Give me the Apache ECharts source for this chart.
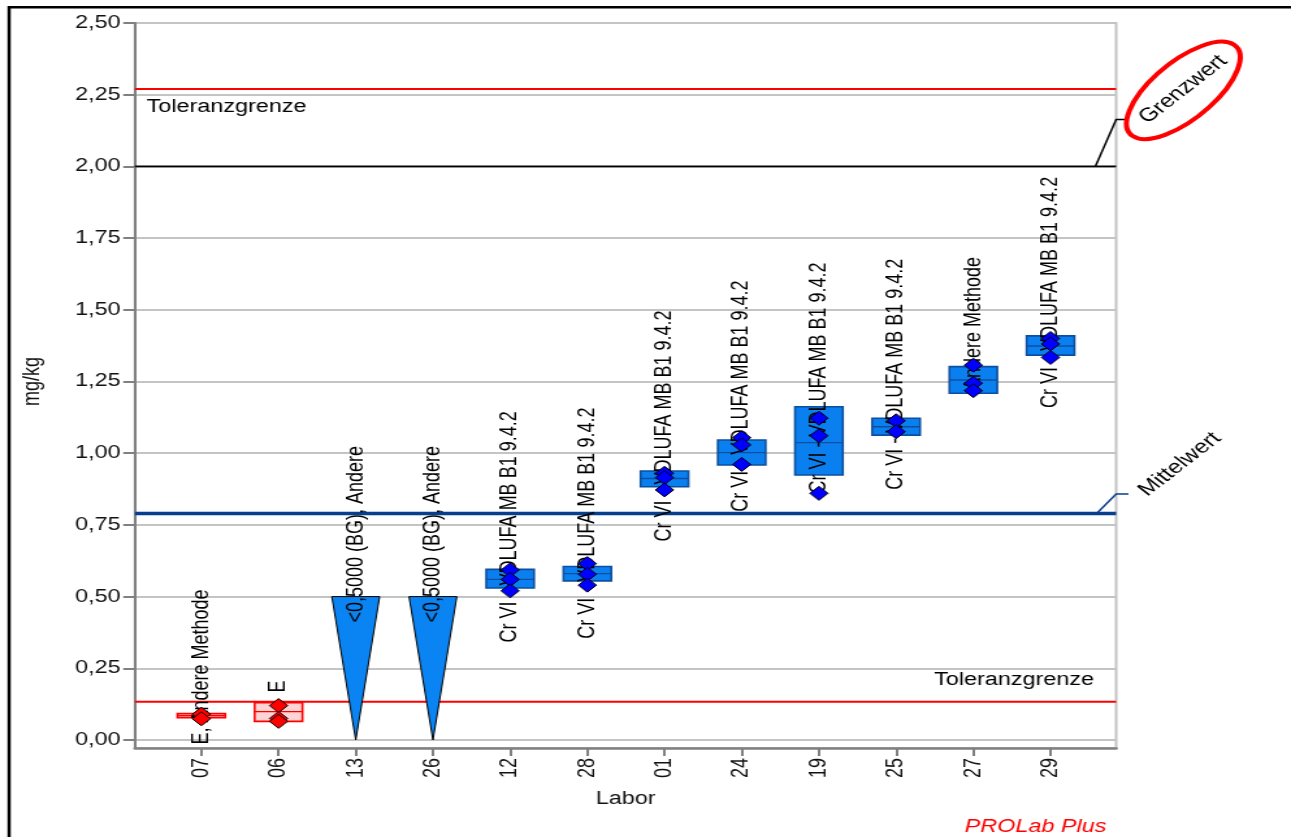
<!DOCTYPE html>
<html>
<head>
<meta charset="utf-8">
<title>Labor-Ergebnisse Cr VI</title>
<script src="https://cdn.jsdelivr.net/npm/echarts@6/dist/echarts.min.js"></script>
<style>
  html, body { margin: 0; padding: 0; background: #ffffff; overflow: hidden; }
  /* the chart is laid out on a narrower canvas and widened horizontally */
  #chart { width: 993px; height: 837px; transform: scaleX(1.3001); transform-origin: 0 0; }
</style>
</head>
<body>
<div id="chart"></div>
<script>
// ---- data ---------------------------------------------------------------
const labs = ['07', '06', '13', '26', '12', '28', '01', '24', '19', '25', '27', '29'];
const methodLabels = [
  'E, Andere Methode',
  'E',
  '<0,5000 (BG), Andere',
  '<0,5000 (BG), Andere',
  'Cr VI - VDLUFA MB B1 9.4.2',
  'Cr VI - VDLUFA MB B1 9.4.2',
  'Cr VI - VDLUFA MB B1 9.4.2',
  'Cr VI - VDLUFA MB B1 9.4.2',
  'Cr VI - VDLUFA MB B1 9.4.2',
  'Cr VI - VDLUFA MB B1 9.4.2',
  'Andere Methode',
  'Cr VI - VDLUFA MB B1 9.4.2'
];
// per-lab result boxes (mg/kg)
const boxLow  = [0.078, 0.065, null, null, 0.530, 0.555, 0.883, 0.959, 0.924, 1.063, 1.209, 1.342];
const boxMid  = [0.085, 0.099, null, null, 0.560, 0.580, 0.912, 1.002, 1.037, 1.092, 1.255, 1.374];
const boxHigh = [0.092, 0.130, null, null, 0.595, 0.605, 0.938, 1.046, 1.162, 1.122, 1.302, 1.409];
// single determinations
const replicates = [
  [0.090, 0.074],
  [0.120, 0.075, 0.065],
  [],
  [],
  [0.593, 0.560, 0.520],
  [0.615, 0.578, 0.540],
  [0.930, 0.915, 0.872],
  [1.054, 1.029, 0.961],
  [1.122, 1.061, 0.860],
  [1.113, 1.075],
  [1.307, 1.244, 1.218],
  [1.400, 1.381, 1.334]
];
// results reported below the limit of quantification (BG)
const quantLimit = [null, null, 0.5, 0.5, null, null, null, null, null, null, null, null];
const excludedLabs = ['07', '06'];

const meanValue = 0.79;
const limitValue = 2.00;
const toleranceHigh = 2.27;
const toleranceLow = 0.133;

const yMax = 2.5;
const yTickStep = 0.25;

// ---- layout -------------------------------------------------------------
const FONT = '"Liberation Sans", Arial, sans-serif';
const HALF = 0.31;                 // half box width in category units
const xMin = -0.86, xMax = 11.85;
// vertical shift (px) of each method label start relative to its box centre
const labelDrop = [29, -19, 26, 26, 63, 65, 63, 59, 51, 63, 10, 62];

const isExcluded = i => excludedLabs.includes(labs[i]);
const idx = labs.map((_, i) => i);

const boxData = idx.filter(i => boxLow[i] != null).map(i => [i, boxLow[i], boxMid[i], boxHigh[i]]);
const loqData = idx.filter(i => quantLimit[i] != null).map(i => [i, quantLimit[i]]);
const labelData = idx.map(i => [i, boxMid[i] != null ? boxMid[i] : quantLimit[i]]);
const pointsIn = [], pointsOut = [];
replicates.forEach((vals, i) => vals.forEach(v => (isExcluded(i) ? pointsOut : pointsIn).push([i, v])));

function renderBox(params, api) {
  const i = api.value(0);
  const tl = api.coord([i - HALF, api.value(3)]);
  const br = api.coord([i + HALF, api.value(1)]);
  const md = api.coord([i, api.value(2)]);
  const ex = isExcluded(i);
  const stroke = ex ? '#ff0000' : '#0d4f9e';
  const fill = ex ? '#ffd4d4' : '#0a80f0';
  return {
    type: 'group',
    children: [
      { type: 'rect', shape: { x: tl[0], y: tl[1], width: br[0] - tl[0], height: br[1] - tl[1] },
        style: { fill: fill, stroke: stroke, lineWidth: 1.6 } },
      { type: 'line', shape: { x1: tl[0], y1: md[1], x2: br[0], y2: md[1] },
        style: { stroke: stroke, lineWidth: 1.4 } }
    ]
  };
}

function renderLoq(params, api) {
  const i = api.value(0), v = api.value(1);
  const a = api.coord([i - HALF, v]);
  const b = api.coord([i + HALF, v]);
  const c = api.coord([i, 0]);
  return { type: 'polygon', shape: { points: [a, b, c] },
           style: { fill: '#0a84f2', stroke: '#000000', lineWidth: 1 } };
}

function renderLabel(params, api) {
  const i = api.value(0);
  const p = api.coord([i, api.value(1)]);
  return {
    type: 'text', x: p[0], y: p[1] + labelDrop[i], rotation: Math.PI / 2,
    style: { text: methodLabels[i], fill: '#000000', fontSize: 18, fontFamily: FONT,
             align: 'left', verticalAlign: 'middle' }
  };
}

function renderRefs(params, api) {
  const cs = params.coordSys;
  const L = cs.x, R = cs.x + cs.width;
  const yOf = v => api.coord([0, v])[1];
  const yTu = yOf(toleranceHigh), yTl = yOf(toleranceLow);
  const yG = yOf(limitValue), yM = yOf(meanValue);
  const deg = Math.PI / 180;
  const txt = (text, x, y, align, rot, size) => ({
    type: 'text', x: x, y: y, rotation: rot || 0,
    style: { text: text, fill: '#000000', fontSize: size || 18, fontFamily: FONT,
             align: align, verticalAlign: 'middle' }
  });
  return {
    type: 'group',
    children: [
      { type: 'line', shape: { x1: L, y1: yTu, x2: R, y2: yTu }, style: { stroke: '#ff0000', lineWidth: 2 } },
      txt('Toleranzgrenze', L + 9, yTu + 18, 'left'),
      { type: 'line', shape: { x1: L, y1: yTl, x2: R, y2: yTl }, style: { stroke: '#ff0000', lineWidth: 2 } },
      txt('Toleranzgrenze', R - 17, yTl - 22, 'right'),
      { type: 'line', shape: { x1: L, y1: yG, x2: R, y2: yG }, style: { stroke: '#000000', lineWidth: 1.6 } },
      { type: 'polyline', shape: { points: [[R - 16, yG], [R, yG - 47], [R + 6.5, yG - 47]] },
        style: { stroke: '#000000', lineWidth: 1.5, fill: null } },
      { type: 'ellipse', x: R + 51.7, y: yG - 76, rotation: 49.5 * deg,
        shape: { cx: 0, cy: 0, rx: 60, ry: 26 },
        style: { fill: null, stroke: '#ff0000', lineWidth: 4 } },
      txt('Grenzwert', R + 51.5, yG - 77, 'center', 45 * deg, 19),
      { type: 'line', shape: { x1: L, y1: yM, x2: R, y2: yM }, style: { stroke: '#073f8f', lineWidth: 3.5 } },
      { type: 'polyline', shape: { points: [[R - 15, yM], [R, yM - 19.5], [R + 9.5, yM - 19.5]] },
        style: { stroke: '#073f8f', lineWidth: 1.5, fill: null } },
      txt('Mittelwert', R + 49, yM - 49, 'center', 45 * deg, 19)
    ]
  };
}

const chart = echarts.init(document.getElementById('chart'), null, { renderer: 'canvas' });

const gridBox = { left: 103.8, right: 134.5, top: 23 };

chart.setOption({
  animation: false,
  backgroundColor: '#ffffff',
  textStyle: { fontFamily: FONT },
  grid: [
    { left: gridBox.left, right: gridBox.right, top: gridBox.top, bottom: 97 },
    { left: gridBox.left, right: gridBox.right, top: gridBox.top, bottom: 89,
      show: true, borderColor: '#c4c4c4', borderWidth: 2, backgroundColor: 'transparent' }
  ],
  xAxis: [
    { gridIndex: 0, type: 'value', min: xMin, max: xMax, show: false,
      axisLine: { onZero: false }, splitLine: { show: false } },
    {
      gridIndex: 1, type: 'value', min: xMin, max: xMax, position: 'bottom',
      axisLine: { show: true, onZero: false, lineStyle: { color: '#808080', width: 2.5 } },
      axisTick: { show: true, customValues: idx, length: 8, lineStyle: { color: '#808080', width: 2 } },
      axisLabel: { show: true, customValues: idx, rotate: 90, margin: 10, fontSize: 18, fontFamily: FONT,
                   color: '#111111', formatter: v => labs[Math.round(v)] },
      splitLine: { show: false },
      name: 'Labor', nameLocation: 'middle', nameGap: 42,
      nameTextStyle: { fontSize: 18, fontFamily: FONT, color: '#111111' }
    }
  ],
  yAxis: [
    {
      gridIndex: 0, type: 'value', min: 0, max: yMax, interval: yTickStep, position: 'left',
      axisLine: { show: false, onZero: false },
      axisTick: { show: true, length: 9, lineStyle: { color: '#808080', width: 2 } },
      axisLabel: { margin: 11, fontSize: 18, fontFamily: FONT, color: '#111111',
                   formatter: v => v.toFixed(2).replace('.', ',') },
      splitLine: { show: true, lineStyle: { color: '#c4c4c4', width: 2 } },
      name: 'mg/kg', nameLocation: 'middle', nameGap: 70,
      nameTextStyle: { fontSize: 18, fontFamily: FONT, color: '#111111' }
    },
    {
      gridIndex: 1, type: 'value', min: 0, max: 1, position: 'left',
      axisLine: { show: true, onZero: false, lineStyle: { color: '#808080', width: 2 } },
      axisTick: { show: false }, axisLabel: { show: false }, splitLine: { show: false }
    }
  ],
  graphic: [
    { type: 'rect', shape: { x: 7, y: 7.3, width: 2000, height: 2000 },
      style: { fill: null, stroke: '#000000', lineWidth: 2.5 }, silent: true },
    { type: 'text', x: 796.5, y: 818,
      style: { text: 'PROLab Plus', fill: '#ff0000', fontSize: 18, fontStyle: 'italic',
               fontFamily: FONT, align: 'center', verticalAlign: 'top' }, silent: true }
  ],
  series: [
    { type: 'custom', name: 'Referenzlinien', xAxisIndex: 0, yAxisIndex: 0, data: [[0, 0]],
      renderItem: renderRefs, clip: false, silent: true, z: 1 },
    { type: 'custom', name: 'Ergebnisse', xAxisIndex: 0, yAxisIndex: 0, data: boxData,
      renderItem: renderBox, silent: true, z: 2 },
    { type: 'custom', name: 'BG', xAxisIndex: 0, yAxisIndex: 0, data: loqData,
      renderItem: renderLoq, silent: true, z: 2 },
    { type: 'custom', name: 'Methoden', xAxisIndex: 0, yAxisIndex: 0, data: labelData,
      renderItem: renderLabel, clip: false, silent: true, z: 3 },
    { type: 'scatter', name: 'Einzelwerte', xAxisIndex: 0, yAxisIndex: 0, data: pointsIn,
      symbol: 'diamond', symbolSize: 14, silent: true, z: 4,
      itemStyle: { color: '#0000ff', borderColor: '#000000', borderWidth: 1, opacity: 1 } },
    { type: 'scatter', name: 'Einzelwerte (ausgeschlossen)', xAxisIndex: 0, yAxisIndex: 0, data: pointsOut,
      symbol: 'diamond', symbolSize: 14, silent: true, z: 4,
      itemStyle: { color: '#ff0000', borderColor: '#000000', borderWidth: 1, opacity: 1 } }
  ]
});
</script>
</body>
</html>
